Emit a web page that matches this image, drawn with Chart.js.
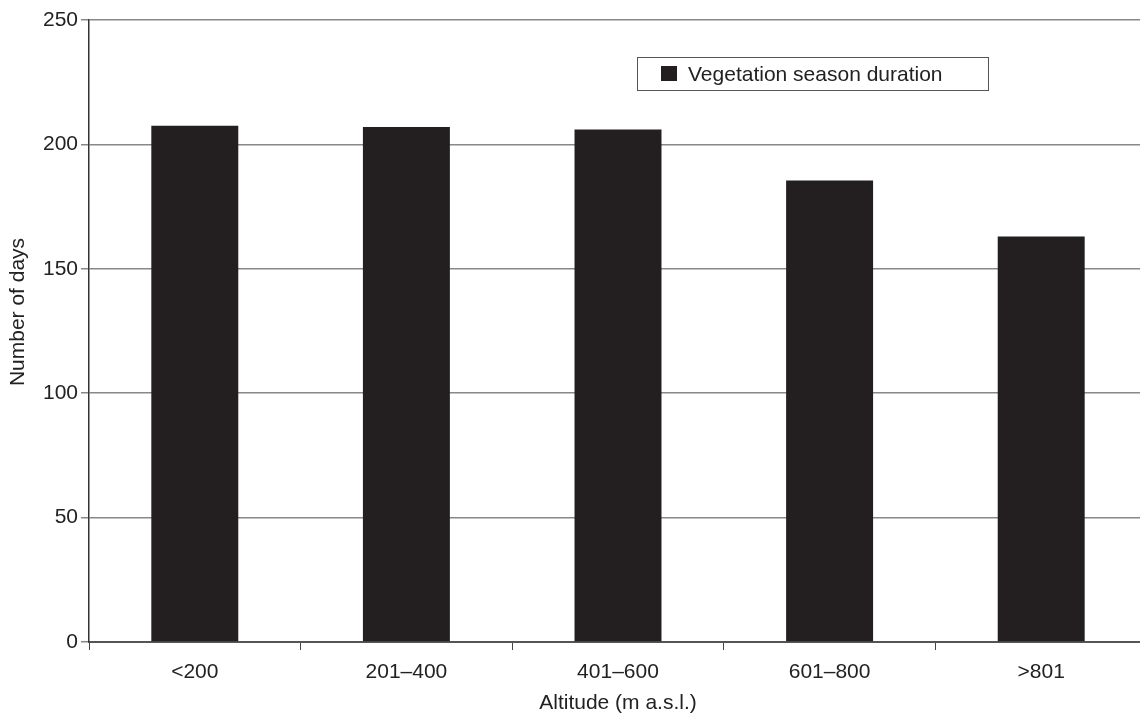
<!DOCTYPE html>
<html>
<head>
<meta charset="utf-8">
<script src="https://cdn.jsdelivr.net/npm/chart.js@4/dist/chart.umd.min.js"></script>
<style>
  html, body { margin: 0; padding: 0; background: #fff; overflow: hidden; }
  #wrap { width: 1147px; height: 720px; position: relative; }
</style>
</head>
<body>
<div id="wrap"><canvas id="chart"></canvas></div>
<script>
// data
const altitudes = ['<200', '201\u2013400', '401\u2013600', '601\u2013800', '>801'];
const seasonDays = [207.5, 207, 206, 185.5, 163];
const seriesLabel = 'Vegetation season duration';
const yTitle = 'Number of days';
const yTicks = [0, 50, 100, 150, 200, 250];

const FONT = '"Liberation Sans", Arial, sans-serif';
const FS = 21;
const BAR = '#231f20';

// boxed legend inside the plot + y title sitting a bit above centre, like the original
const extras = {
  id: 'extras',
  afterDraw(chart) {
    const c = chart.ctx;
    c.save();
    c.strokeStyle = '#555';
    c.lineWidth = 1;
    c.fillStyle = '#fff';
    c.fillRect(637, 57, 351, 33);
    c.strokeRect(637.5, 57.5, 351, 33);
    c.fillStyle = BAR;
    c.fillRect(661, 66, 16, 15);
    c.fillStyle = '#222';
    c.font = FS + 'px ' + FONT;
    c.textBaseline = 'middle';
    c.fillText(chart.data.datasets[0].label, 688, 75);

    // y axis title
    c.translate(18, 312);
    c.rotate(-Math.PI / 2);
    c.textAlign = 'center';
    c.fillText(yTitle, 0, 0);
    c.restore();
  }
};

new Chart(document.getElementById('chart'), {
  type: 'bar',
  data: {
    labels: altitudes,
    datasets: [{
      label: seriesLabel,
      data: seasonDays,
      backgroundColor: BAR,
      borderWidth: 0,
      categoryPercentage: 1,
      barPercentage: 0.411
    }]
  },
  options: {
    responsive: true,
    maintainAspectRatio: false,
    animation: false,
    layout: { padding: { top: 20, right: 0, left: 0, bottom: 0 } },
    plugins: { legend: { display: false }, tooltip: { enabled: false } },
    scales: {
      x: {
        offset: true,
        grid: { offset: true, drawOnChartArea: false, color: '#444', tickLength: 8, lineWidth: 1 },
        border: { color: '#555', width: 2 },
        ticks: { color: '#222', font: { family: FONT, size: FS }, padding: 10 },
        title: { display: true, text: 'Altitude (m a.s.l.)', color: '#222', font: { family: FONT, size: FS }, padding: { top: 7 } },
        afterFit: s => { s.height = 78; }
      },
      y: {
        min: 0,
        max: 250,
        afterBuildTicks: s => { s.ticks = yTicks.map(v => ({ value: v })); },
        grid: { color: '#888', lineWidth: 1.5, tickLength: 8 },
        border: { color: '#333', width: 1.5 },
        ticks: { color: '#222', font: { family: FONT, size: FS }, padding: 3 },
        afterFit: s => { s.width = 89; }
      }
    }
  },
  plugins: [extras]
});
</script>
</body>
</html>
